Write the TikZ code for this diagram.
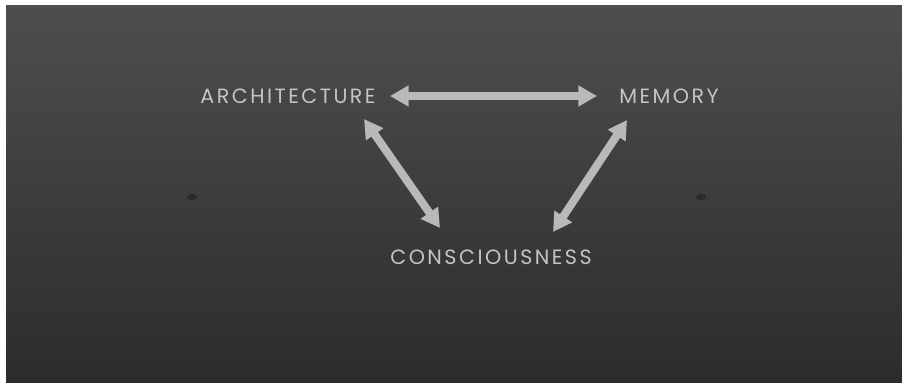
\documentclass[tikz,border=0pt]{standalone}
\usepackage{fontspec}
\setmainfont{Poppins}[LetterSpace=12]
\usetikzlibrary{arrows.meta}
\definecolor{chalk}{RGB}{196,196,196}
\definecolor{chalkarrow}{RGB}{185,185,185}
\definecolor{boardtop}{RGB}{78,78,78}
\definecolor{boardbot}{RGB}{44,44,44}
\definecolor{smudge}{RGB}{30,30,30}
\tikzset{
  word/.style={text=chalk, font=\fontsize{15.5}{18}\selectfont, inner sep=0pt},
  biarrow/.style={draw=chalkarrow, line width=6pt,
    {Triangle[width=15pt,length=14pt]}-{Triangle[width=15pt,length=14pt]}}
}
\begin{document}
\begin{tikzpicture}[x=0.75pt,y=-0.75pt]
\useasboundingbox (0,0) rectangle (902,382);
\fill[white] (0,0) rectangle (902,382);
\shade[top color=boardtop, bottom color=boardbot] (6,5) rectangle (902,382);
\fill[smudge, opacity=0.6] (192,197) ellipse (5 and 3);
\fill[smudge, opacity=0.6] (701,197) ellipse (5 and 3);
\node[word] (arch) at (288,96) {ARCHITECTURE};
\node[word] (mem) at (669,96) {MEMORY};
\node[word] (cons) at (491,257) {CONSCIOUSNESS};
\coordinate (ah) at (390,96);
\coordinate (mh) at (597,96);
\coordinate (al) at (364,119);
\coordinate (cl) at (440,228);
\coordinate (mr) at (627,120);
\coordinate (cr) at (553,232);
\draw[biarrow] (ah) -- (mh);
\draw[biarrow] (al) -- (cl);
\draw[biarrow] (mr) -- (cr);
\end{tikzpicture}
\end{document}
